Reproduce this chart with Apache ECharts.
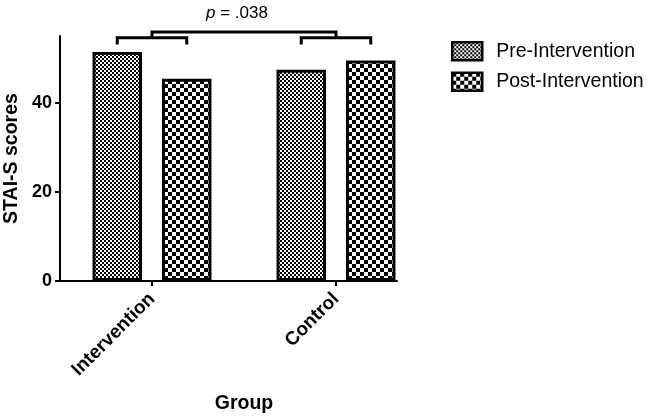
<!DOCTYPE html>
<html><head><meta charset="utf-8">
<script src="https://cdn.jsdelivr.net/npm/echarts@6/dist/echarts.min.js"></script>
<style>html,body{margin:0;padding:0;background:#fff}#c{width:648px;height:416px}</style>
</head><body><div id="c"></div>
<script>
// ---- data ----
const categories = ['Intervention', 'Control'];
const seriesNames = ['Pre-Intervention', 'Post-Intervention'];
const preValues = [51.4, 47.4];
const postValues = [45.4, 49.5];
const yTicks = [0, 20, 40];
const yMax = 55;
// brackets: [startCategory, lowValue, highValue, endCategory, kind(0=within group, 1=between groups)]
const withinBrackets = [[0, 53.1, 54.6, 0, 0], [1, 53.1, 54.6, 1, 0]];
const betweenBracket = [0, 54.6, 55.9, 1, 1];
const pText = '{i|p} = .038';

// ---- styles ----
const FONT = 'Liberation Sans, Arial, sans-serif';
const BAR_W = 49.5;
const BAR_GAP = 0.404;

function checker(size) {
  const c = document.createElement('canvas');
  c.width = size * 2; c.height = size * 2;
  const g = c.getContext('2d');
  g.fillStyle = '#fff'; g.fillRect(0, 0, size * 2, size * 2);
  g.fillStyle = '#000';
  g.fillRect(0, 0, size, size);
  g.fillRect(size, size, size, size);
  return c;
}
const prePattern = { image: checker(2), repeat: 'repeat' };
const postPattern = { image: checker(4), repeat: 'repeat' };

function renderBracket(params, api) {
  const i0 = api.value(0), lo = api.value(1), hi = api.value(2), i1 = api.value(3), kind = api.value(4);
  const a = api.coord([i0, lo]);
  const b = api.coord([i0, hi]);
  let x0, x1;
  if (kind === 0) {
    const half = BAR_W * (1 + BAR_GAP) / 2;
    x0 = a[0] - half; x1 = a[0] + half;
  } else {
    x0 = a[0]; x1 = api.coord([i1, hi])[0];
  }
  return {
    type: 'polyline',
    shape: { points: [[x0, a[1]], [x0, b[1]], [x1, b[1]], [x1, a[1]]] },
    style: { stroke: '#000', lineWidth: 3, fill: null }
  };
}

const chart = echarts.init(document.getElementById('c'), null, { renderer: 'canvas' });
chart.setOption({
  animation: false,
  backgroundColor: '#fff',
  textStyle: { fontFamily: FONT },
  title: {
    text: pText, left: 232, top: 0, textAlign: 'center',
    textStyle: { fontSize: 17, fontWeight: 'normal', color: '#000', fontFamily: FONT,
      rich: { i: { fontStyle: 'italic', fontSize: 17, color: '#000', fontFamily: FONT } } }
  },
  legend: {
    data: seriesNames, orient: 'vertical', left: 451, top: 41, padding: 0,
    itemWidth: 30, itemHeight: 18, itemGap: 10, icon: 'rect',
    textStyle: { fontSize: 19.5, color: '#000', fontFamily: FONT, padding: [0, 0, 0, 9] },
    itemStyle: { borderColor: '#000', borderWidth: 2.5 }
  },
  grid: [
    { left: 60, right: 220, top: 36, bottom: 135, containLabel: false, outerBoundsMode: 'none' },
    { left: 58, right: 251, top: 36, bottom: 135, containLabel: false, outerBoundsMode: 'none' }
  ],
  xAxis: [
    {
      type: 'category', data: categories, gridIndex: 0,
      axisLine: { show: false },
      axisTick: { show: true, alignWithLabel: true, length: 5, lineStyle: { color: '#000', width: 2 } },
      axisLabel: { rotate: 45, margin: 15, fontSize: 19, fontWeight: 'bold', color: '#000', fontFamily: FONT },
      name: 'Group', nameLocation: 'middle', nameGap: 113, nameMoveOverlap: false,
      nameTextStyle: { fontSize: 19.5, fontWeight: 'bold', color: '#000', fontFamily: FONT }
    },
    {
      type: 'value', gridIndex: 1, min: 0, max: 1,
      axisLine: { show: true, onZero: false, lineStyle: { color: '#000', width: 2 } },
      axisTick: { show: false }, axisLabel: { show: false }, splitLine: { show: false }
    }
  ],
  yAxis: [
    {
      type: 'value', gridIndex: 0, min: 0, max: yMax, interval: 20,
      axisLine: { show: true, lineStyle: { color: '#000', width: 2 } },
      axisTick: { show: true, length: 5, customValues: yTicks, lineStyle: { color: '#000', width: 2 } },
      axisLabel: { customValues: yTicks, margin: 8, fontSize: 18, fontWeight: 'bold', color: '#000', fontFamily: FONT },
      splitLine: { show: false },
      name: 'STAI-S scores', nameLocation: 'middle', nameGap: 38, nameMoveOverlap: false,
      nameTextStyle: { fontSize: 19.5, fontWeight: 'bold', color: '#000', fontFamily: FONT }
    },
    { type: 'value', gridIndex: 1, min: 0, max: 1, show: false }
  ],
  series: [
    {
      name: seriesNames[0], type: 'bar', xAxisIndex: 0, yAxisIndex: 0,
      data: preValues, barWidth: BAR_W, barGap: (BAR_GAP * 100) + '%',
      itemStyle: { color: prePattern, borderColor: '#000', borderWidth: 3 }
    },
    {
      name: seriesNames[1], type: 'bar', xAxisIndex: 0, yAxisIndex: 0,
      data: postValues, barWidth: BAR_W, barGap: (BAR_GAP * 100) + '%',
      itemStyle: { color: postPattern, borderColor: '#000', borderWidth: 3 }
    },
    {
      name: 'brackets', type: 'custom', xAxisIndex: 0, yAxisIndex: 0,
      renderItem: renderBracket, clip: false, silent: true,
      encode: { x: 0, y: 1 },
      data: withinBrackets.concat([betweenBracket])
    }
  ]
});
</script>
</body></html>
